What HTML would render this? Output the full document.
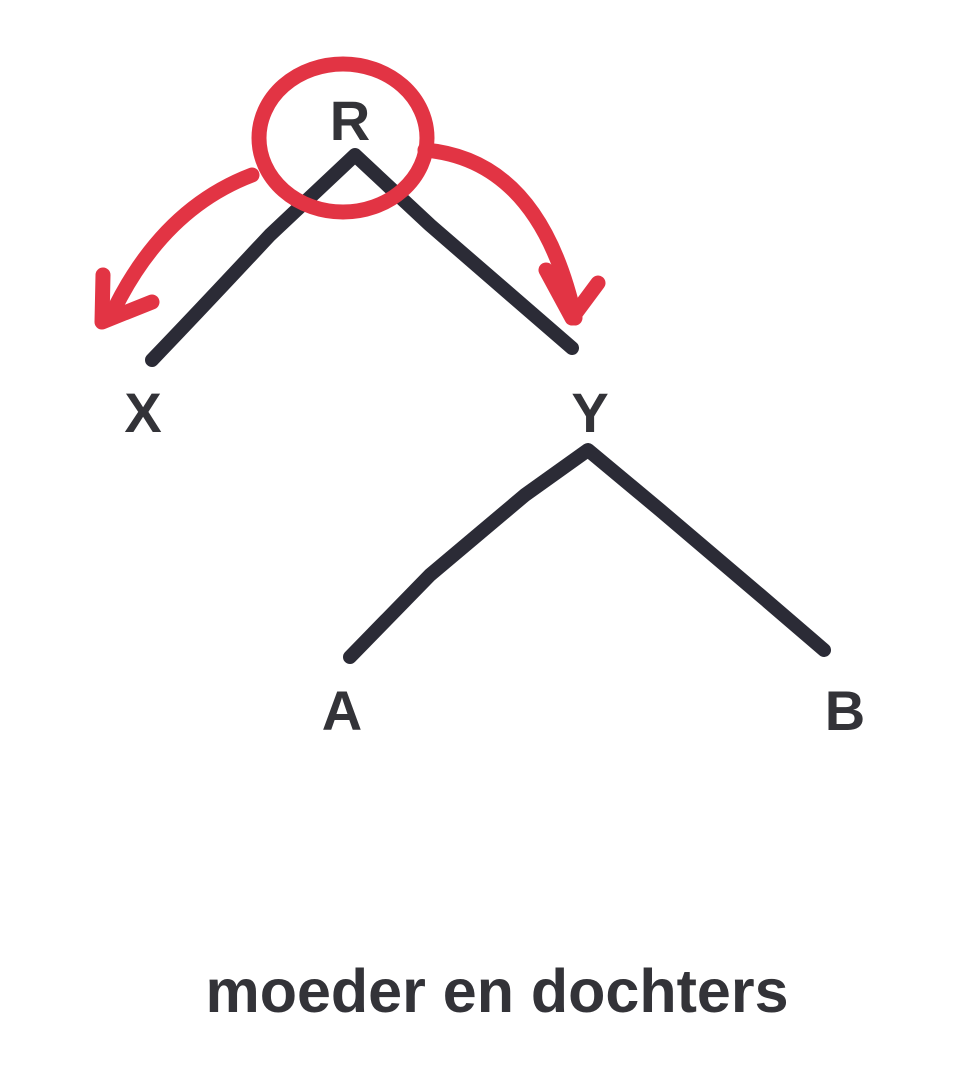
<!DOCTYPE html>
<html><head><meta charset="utf-8"><style>
html,body{margin:0;padding:0;background:#fff;}
svg{display:block}
text{font-family:"Liberation Sans",sans-serif;font-weight:bold;fill:#333338}
</style></head><body>
<svg width="976" height="1088" viewBox="0 0 976 1088">
<g fill="none" stroke="#2b2b36" stroke-width="14" stroke-linecap="round" stroke-linejoin="round">
<path d="M152,360 Q200,310 270,235 L355,155 L430,225 L572,348"/>
<path d="M350,657 L430,575 L525,495 L588,450 L660,510 L760,595 L824,650"/>
</g>
<g fill="none" stroke="#e23444" stroke-width="15" stroke-linecap="round" stroke-linejoin="round">
<ellipse cx="343" cy="138" rx="84" ry="74"/>
<path d="M252,175 Q160,210 110,318"/>
<path d="M103,275 L102,322 L152,302"/>
<path d="M425,150 Q540,160 575,318"/>
<path d="M546,270 L572,318 L598,283"/>
</g>
<text x="350" y="140" font-size="56" text-anchor="middle">R</text>
<text x="143" y="432" font-size="56" text-anchor="middle">X</text>
<text x="590" y="432" font-size="56" text-anchor="middle">Y</text>
<text x="342" y="730" font-size="56" text-anchor="middle">A</text>
<text x="845" y="730" font-size="56" text-anchor="middle">B</text>
<text x="497" y="1012" font-size="61" text-anchor="middle">moeder en dochters</text>
</svg>
</body></html>
